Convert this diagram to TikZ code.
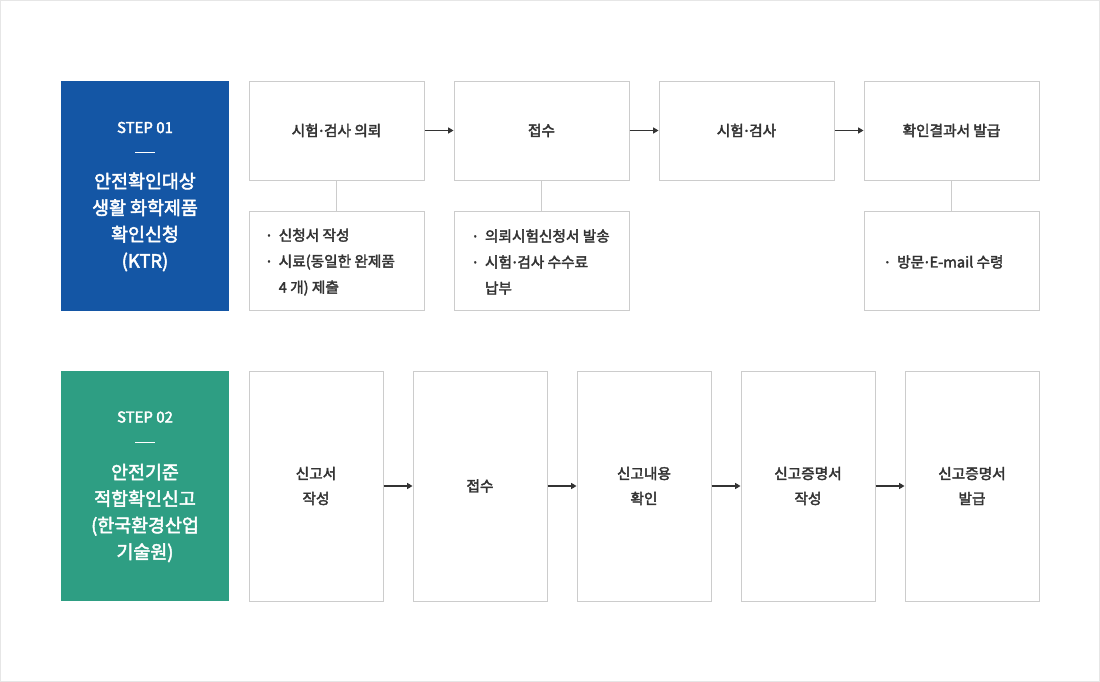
\documentclass[tikz,border=0pt]{standalone}
\usepackage{fontspec}
\setmainfont{Noto Sans CJK KR}[UprightFeatures={FakeBold=2.5}]
\newfontfamily\dotfont{Noto Sans}[UprightFeatures={FakeBold=2.5}]
\usetikzlibrary{arrows.meta}
\definecolor{stepblue}{HTML}{1456A5}
\definecolor{stepgreen}{HTML}{2E9E83}
\definecolor{boxgray}{HTML}{CCCCCC}
\definecolor{txtgray}{HTML}{333333}
\definecolor{framegray}{HTML}{E6E6E6}
\newcommand\mdot{{\dotfont\kern0.05em·\kern0.05em}}
\newcommand\bulitem{\makebox[0.8em][l]{\dotfont·}}
\newcommand\bulind{\hspace*{0.8em}}
\tikzset{
  procbox/.style={draw=boxgray, line width=0.75pt, fill=white, text=txtgray, align=center,
    font={\fontsize{11}{18.75}\selectfont}, inner sep=0pt},
  wideproc/.style={procbox, minimum width=131.25pt, minimum height=74.25pt},
  tallproc/.style={procbox, minimum width=100.5pt, minimum height=172.5pt},
  stepbox/.style={minimum width=126pt, minimum height=172.5pt, inner sep=0pt},
  steplabel/.style={text=white, font={\fontsize{11.25}{13}\selectfont}, inner sep=0pt},
  steptitle/.style={text=white, align=center, font={\fontsize{13.8}{19.9}\selectfont}, inner sep=0pt},
  subtext/.style={text=txtgray, align=left, font={\fontsize{11}{19.5}\selectfont}, inner sep=0pt},
  arr/.style={draw=txtgray, line width=0.8pt, -{Triangle[length=4pt,width=4.5pt]}},
  conn/.style={draw=boxgray, line width=0.75pt},
  dashline/.style={draw=white, line width=0.75pt}
}
\begin{document}
\begin{tikzpicture}[x=0.75pt,y=-0.75pt]
\useasboundingbox (0,0) rectangle (1100,682);
\fill[white] (0,0) rectangle (1100,682);
\draw[framegray, line width=0.75pt] (0.5,0.5) rectangle (1099.5,681.5);

% STEP 01
\node[stepbox, fill=stepblue] (s1box) at (145,196) {};
\node[steplabel] (s1lab) at (145,127.5) {STEP 01};
\draw[dashline] (135,152.5) -- (155,152.5);
\node[steptitle] (s1title) at (145,222) {안전확인대상\\생활 화학제품\\확인신청\\(KTR)};

\node[wideproc] (a1) at (336.5,130.5) {시험\mdot 검사 의뢰};
\node[wideproc] (a2) at (541.5,130.5) {접수};
\node[wideproc] (a3) at (746.5,130.5) {시험\mdot 검사};
\node[wideproc] (a4) at (951.5,130.5) {확인결과서 발급};

\node[wideproc] (d1) at (336.5,260.5) {};
\node[wideproc] (d2) at (541.5,260.5) {};
\node[wideproc] (d4) at (951.5,260.5) {};
\node[subtext] (t1) at (331,262) {\bulitem 신청서 작성\\\bulitem 시료(동일한 완제품\\\bulind 4 개) 제출};
\node[subtext] (t2) at (541.5,262) {\bulitem 의뢰시험신청서 발송\\\bulitem 시험\mdot 검사 수수료\\\bulind 납부};
\node[subtext] (t4) at (944.5,262) {\bulitem 방문\mdot E-mail 수령};

\draw[arr] (a1.east) -- (a2.west);
\draw[arr] (a2.east) -- (a3.west);
\draw[arr] (a3.east) -- (a4.west);
\draw[conn] (a1.south) -- (d1.north);
\draw[conn] (a2.south) -- (d2.north);
\draw[conn] (a4.south) -- (d4.north);

% STEP 02
\node[stepbox, fill=stepgreen] (s2box) at (145,486) {};
\node[steplabel] (s2lab) at (145,417) {STEP 02};
\draw[dashline] (135,442) -- (155,442);
\node[steptitle] (s2title) at (145,513) {안전기준\\적합확인신고\\(한국환경산업\\기술원)};

\node[tallproc] (b1) at (316,486) {신고서\\작성};
\node[tallproc] (b2) at (480,486) {접수};
\node[tallproc] (b3) at (644,486) {신고내용\\확인};
\node[tallproc] (b4) at (808,486) {신고증명서\\작성};
\node[tallproc] (b5) at (972,486) {신고증명서\\발급};

\draw[arr] (b1.east) -- (b2.west);
\draw[arr] (b2.east) -- (b3.west);
\draw[arr] (b3.east) -- (b4.west);
\draw[arr] (b4.east) -- (b5.west);
\end{tikzpicture}
\end{document}
